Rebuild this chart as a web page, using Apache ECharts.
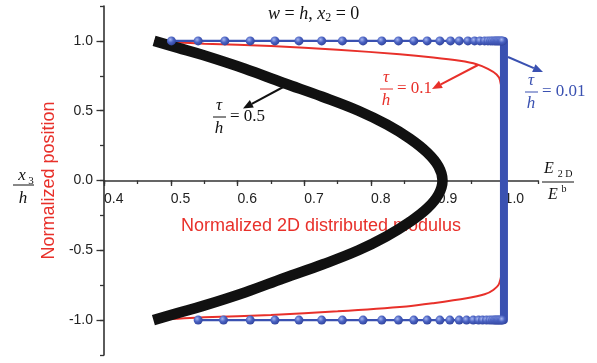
<!DOCTYPE html>
<html><head><meta charset="utf-8">
<script src="https://cdn.jsdelivr.net/npm/echarts@6/dist/echarts.min.js"></script>
<style>html,body{margin:0;padding:0;background:#fff}#c{width:597px;height:363px}</style>
</head><body><div id="c"></div>
<script>
// ---- data ----
const X_TICK_LABELS = ['0.4','0.5','0.6','0.7','0.8','0.9','1.0'];
const Y_TICK_LABELS = ['-1.0','-0.5','0.0','0.5','1.0'];

// tau/h = 0.5 (black)
const blackY = [1.0, 0.95, 0.9, 0.8, 0.7, 0.6, 0.5, 0.4, 0.3, 0.2, 0.1, 0.0, -0.1, -0.2, -0.3, -0.4, -0.5, -0.6, -0.7, -0.8, -0.9, -0.95, -1.0];
const blackX = [0.475, 0.511, 0.547, 0.611, 0.668, 0.727, 0.781, 0.824, 0.858, 0.884, 0.901, 0.907, 0.901, 0.884, 0.857, 0.823, 0.781, 0.728, 0.669, 0.612, 0.547, 0.510, 0.474];

// tau/h = 0.1 (red)
const redX = [0.475, 0.55, 0.65, 0.75, 0.843, 0.893, 0.933, 0.958, 0.975, 0.988, 0.993, 0.997, 0.998, 0.998, 0.998, 0.997, 0.992, 0.983, 0.970, 0.943, 0.893, 0.853, 0.75, 0.65, 0.55, 0.475];
const redY = [1.0, 0.98, 0.963, 0.937, 0.904, 0.881, 0.857, 0.833, 0.80, 0.76, 0.72, 0.6, 0.3, 0.0, -0.3, -0.6, -0.736, -0.784, -0.815, -0.844, -0.879, -0.902, -0.937, -0.963, -0.98, -1.0];

// tau/h = 0.01 (blue)
const blueTopX = [0.501, 0.541, 0.581, 0.619, 0.656, 0.692, 0.726, 0.757, 0.788, 0.816, 0.841, 0.864, 0.884, 0.903, 0.919, 0.932, 0.945, 0.955, 0.963, 0.970, 0.975, 0.979, 0.982, 0.985, 0.987, 0.989, 0.991, 0.993, 0.995, 0.997];
const blueBottomX = [0.541, 0.579, 0.619, 0.656, 0.692, 0.726, 0.757, 0.788, 0.816, 0.841, 0.864, 0.884, 0.903, 0.918, 0.932, 0.943, 0.953, 0.961, 0.967, 0.973, 0.978, 0.982, 0.985, 0.987, 0.989, 0.991, 0.993, 0.995, 0.997];
const blueTopY = 1.0, blueBottomY = -1.0;
const blueWallX = [0.968, 0.999, 0.999, 0.968];
const blueWallY = [1.0, 1.0, -1.0, -1.0];

// ---- styles ----
const RED = '#e8302a', BLUE = '#3a51b1', BLACK = '#111111', AX = '#333333';
const SANS = 'Liberation Sans', SERIF = 'Liberation Serif';

const zip = (xs, ys) => xs.map((x, i) => [x, Array.isArray(ys) ? ys[i] : ys]);
const near = (v, step) => Math.abs(v / step - Math.round(v / step)) < 1e-6;

const ballColor = {type: 'radial', x: 0.38, y: 0.35, r: 0.75,
  colorStops: [{offset: 0, color: '#a5b5f0'}, {offset: 0.45, color: '#4a62c2'}, {offset: 1, color: '#2a3c94'}]};

function txt(x, y, text, o) {
  o = o || {};
  return {type: 'text', x: x, y: y, z: 100, silent: true,
    style: {text: text, fill: o.color || '#111', fontFamily: o.family || SERIF,
      fontSize: o.size || 17, fontStyle: o.italic ? 'italic' : 'normal',
      align: o.align || 'center', verticalAlign: o.va || 'middle'}};
}
function bar(x1, x2, y, color) {
  return {type: 'line', z: 100, silent: true, shape: {x1: x1, y1: y, x2: x2, y2: y},
    style: {stroke: color || '#111', lineWidth: 1}};
}
function arrow(x1, y1, x2, y2, color) {
  const dx = x2 - x1, dy = y2 - y1, L = Math.hypot(dx, dy), ux = dx / L, uy = dy / L;
  const hl = 10, hw = 4.2;
  const bx = x2 - ux * hl, by = y2 - uy * hl;
  return [
    {type: 'line', z: 100, silent: true, shape: {x1: x1, y1: y1, x2: bx, y2: by}, style: {stroke: color, lineWidth: 2}},
    {type: 'polygon', z: 100, silent: true, shape: {points: [[x2, y2], [bx - uy * hw, by + ux * hw], [bx + uy * hw, by - ux * hw]]}, style: {fill: color}}
  ];
}
function tauLabel(cx, cy, value, color) {
  return [
    txt(cx, cy - 11, 'τ', {italic: true, color: color}),
    bar(cx - 6, cx + 7, cy, color),
    txt(cx, cy + 12, 'h', {italic: true, color: color}),
    txt(cx + 11, cy, '= ' + value, {color: color, align: 'left'})
  ];
}

const graphics = [].concat(
  [{type: 'text', x: 268, y: 14, z: 100, silent: true, style: {
    text: '{i|w} = {i|h}, {i|x}{s|2} = 0', fill: '#111', fontFamily: SERIF, fontSize: 18,
    align: 'left', verticalAlign: 'middle',
    rich: {
      i: {fontStyle: 'italic', fontFamily: SERIF, fontSize: 18, lineHeight: 20, fill: '#111'},
      s: {fontFamily: SERIF, fontSize: 12, lineHeight: 12, verticalAlign: 'bottom', fill: '#111'}
    }}}],
  [txt(22, 176, 'x', {italic: true}), txt(31, 181, '3', {size: 11}), bar(13, 34, 185), txt(23, 199, 'h', {italic: true})],
  [txt(549, 169, 'E', {italic: true, size: 16}), txt(565, 174, '2 D', {size: 10}),
   bar(542, 574, 182), txt(553, 195, 'E', {italic: true, size: 16}), txt(564, 189, 'b', {size: 10})],
  tauLabel(219, 117, '0.5', BLACK),
  arrow(287, 85, 243, 108.5, BLACK),
  tauLabel(386, 89, '0.1', RED),
  arrow(478, 65, 432, 89, RED),
  tauLabel(531, 92, '0.01', BLUE),
  arrow(508, 57, 543, 72, BLUE)
);

// plot area: x 104..538 (0.4..1.05), y 6..355 (1.25..-1.25); zero line at y = 180.5
const G = {outerBoundsMode: 'none', containLabel: false};
const chart = echarts.init(document.getElementById('c'), null, {renderer: 'canvas'});
chart.setOption({
  animation: false,
  backgroundColor: '#fff',
  grid: [
    Object.assign({left: 104, right: 59, top: 6, bottom: 8}, G),        // 0: data + y axis
    Object.assign({left: 104, right: 59, top: 6, bottom: 182.5}, G),    // 1: x axis on zero line
    Object.assign({left: 104, right: 92.4, top: 6, bottom: 182.5}, G),  // 2: major x ticks
    Object.assign({left: 104, right: 59, top: 40.9, bottom: 42.9}, G)   // 3: major y ticks
  ],
  xAxis: [
    {type: 'value', gridIndex: 0, min: 0.4, max: 1.05, show: false},
    {type: 'value', gridIndex: 1, min: 0.4, max: 1.05, interval: 0.05,
      name: 'Normalized 2D distributed modulus', nameLocation: 'middle', nameGap: 37,
      nameTextStyle: {color: RED, fontSize: 18, fontFamily: SANS},
      axisLine: {onZero: false, lineStyle: {color: AX, width: 1.6}},
      axisTick: {length: 3.5, lineStyle: {color: AX, width: 1.3}},
      splitLine: {show: false},
      axisLabel: {color: '#222', fontSize: 14, fontFamily: SANS, align: 'left', margin: 12,
        formatter: v => { const t = v.toFixed(1); return (near(v, 0.1) && X_TICK_LABELS.includes(t)) ? t : ''; }}
    },
    {type: 'value', gridIndex: 2, min: 0.4, max: 1.0, interval: 0.1,
      axisLine: {show: false, onZero: false}, axisLabel: {show: false}, splitLine: {show: false},
      axisTick: {length: 5.5, lineStyle: {color: AX, width: 1.3}}},
    {type: 'value', gridIndex: 3, min: 0.4, max: 1.05, show: false}
  ],
  yAxis: [
    {type: 'value', gridIndex: 0, min: -1.25, max: 1.25, interval: 0.25,
      name: 'Normalized position', nameLocation: 'middle', nameGap: 41,
      nameTextStyle: {color: RED, fontSize: 18, fontFamily: SANS},
      axisLine: {onZero: false, lineStyle: {color: AX, width: 1.6}},
      axisTick: {length: 4, lineStyle: {color: AX, width: 1.3}},
      splitLine: {show: false},
      axisLabel: {color: '#222', fontSize: 14, fontFamily: SANS, margin: 11,
        formatter: v => { const t = v.toFixed(1); return (near(v, 0.5) && Y_TICK_LABELS.includes(t)) ? t : ''; }}
    },
    {type: 'value', gridIndex: 1, min: 0, max: 1.25, show: false},
    {type: 'value', gridIndex: 2, min: 0, max: 1.25, show: false},
    {type: 'value', gridIndex: 3, min: -1, max: 1, interval: 0.5,
      axisLine: {show: false, onZero: false}, axisLabel: {show: false}, splitLine: {show: false},
      axisTick: {length: 7.5, lineStyle: {color: AX, width: 1.3}}}
  ],
  series: [
    {name: 'tau/h=0.1', type: 'line', xAxisIndex: 0, yAxisIndex: 0, data: zip(redX, redY),
      showSymbol: false, symbol: 'none', smooth: 0.3, z: 3,
      lineStyle: {color: RED, width: 2}},
    {name: 'tau/h=0.5', type: 'line', xAxisIndex: 0, yAxisIndex: 0, data: zip(blackX, blackY),
      showSymbol: false, symbol: 'none', smooth: 0.4, z: 4,
      lineStyle: {color: BLACK, width: 10.5, cap: 'butt'}},
    {name: 'tau/h=0.01 wall', type: 'line', xAxisIndex: 0, yAxisIndex: 0, data: zip(blueWallX, blueWallY),
      showSymbol: false, symbol: 'none', z: 5,
      lineStyle: {color: BLUE, width: 8, join: 'round', cap: 'butt'}},
    {name: 'tau/h=0.01 top', type: 'line', xAxisIndex: 0, yAxisIndex: 0, data: zip(blueTopX, blueTopY),
      symbol: 'circle', symbolSize: 9, showAllSymbol: true, z: 6,
      lineStyle: {color: BLUE, width: 2.4}, itemStyle: {color: ballColor, borderWidth: 0}},
    {name: 'tau/h=0.01 bottom', type: 'line', xAxisIndex: 0, yAxisIndex: 0, data: zip(blueBottomX, blueBottomY),
      symbol: 'circle', symbolSize: 9, showAllSymbol: true, z: 6,
      lineStyle: {color: BLUE, width: 2.4}, itemStyle: {color: ballColor, borderWidth: 0}}
  ],
  graphic: graphics
});
</script></body></html>
